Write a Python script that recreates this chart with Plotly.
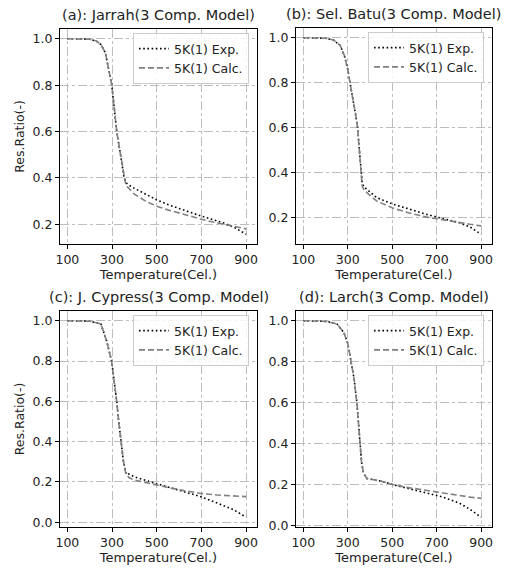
import plotly.graph_objects as go

W, H = 530, 568

titles = ["(a): Jarrah(3 Comp. Model)", "(b): Sel. Batu(3 Comp. Model)",
          "(c): J. Cypress(3 Comp. Model)", "(d): Larch(3 Comp. Model)"]
x_ticks = [100, 300, 500, 700, 900]

# Panel (a)
t_a = [100, 150, 200, 230, 250, 270, 285, 299, 310, 321, 338, 354, 362, 370, 400, 450, 500, 550, 600, 650, 700, 750, 800, 850, 900]
exp_a = [1.0, 1.0, 0.998, 0.99, 0.975, 0.94, 0.87, 0.80, 0.70, 0.60, 0.50, 0.40, 0.38, 0.372, 0.355, 0.33, 0.305, 0.285, 0.268, 0.25, 0.235, 0.22, 0.205, 0.185, 0.157]
calc_a = [1.0, 1.0, 0.998, 0.99, 0.975, 0.94, 0.87, 0.80, 0.70, 0.60, 0.50, 0.40, 0.37, 0.36, 0.33, 0.30, 0.278, 0.262, 0.248, 0.235, 0.222, 0.21, 0.20, 0.19, 0.18]

# Panel (b)
t_b = [100, 150, 200, 236, 266, 285, 300, 310, 325, 335, 344, 352, 359, 365, 375, 429, 503, 577, 651, 725, 799, 850, 900]
exp_b = [1.0, 1.0, 0.998, 0.99, 0.966, 0.92, 0.86, 0.80, 0.72, 0.66, 0.60, 0.50, 0.40, 0.35, 0.335, 0.289, 0.26, 0.237, 0.215, 0.196, 0.178, 0.158, 0.126]
calc_b = [1.0, 1.0, 0.998, 0.99, 0.966, 0.92, 0.86, 0.80, 0.72, 0.66, 0.60, 0.50, 0.40, 0.34, 0.32, 0.274, 0.242, 0.22, 0.203, 0.19, 0.178, 0.17, 0.163]

# Panel (c)
t_c = [100, 150, 200, 250, 276, 298, 310, 321, 330, 339, 350, 360, 368, 375, 400, 473, 548, 622, 697, 771, 846, 900]
exp_c = [1.0, 1.0, 0.998, 0.985, 0.90, 0.80, 0.70, 0.60, 0.50, 0.40, 0.31, 0.25, 0.235, 0.24, 0.225, 0.20, 0.176, 0.15, 0.127, 0.095, 0.061, 0.025]
calc_c = [1.0, 1.0, 0.998, 0.985, 0.90, 0.80, 0.70, 0.60, 0.50, 0.40, 0.31, 0.25, 0.232, 0.222, 0.21, 0.19, 0.173, 0.157, 0.143, 0.135, 0.13, 0.127]

# Panel (d)
t_d = [100, 150, 207, 252, 282, 300, 315, 328, 341, 353, 362, 371, 386, 450, 505, 580, 654, 729, 803, 850, 900]
exp_d = [1.0, 1.0, 0.997, 0.984, 0.943, 0.89, 0.80, 0.72, 0.60, 0.42, 0.31, 0.256, 0.231, 0.218, 0.20, 0.18, 0.162, 0.14, 0.11, 0.08, 0.042]
calc_d = [1.0, 1.0, 0.997, 0.984, 0.943, 0.89, 0.80, 0.72, 0.60, 0.42, 0.31, 0.256, 0.231, 0.218, 0.20, 0.185, 0.172, 0.159, 0.146, 0.14, 0.134]

panels = [(t_a, exp_a, calc_a), (t_b, exp_b, calc_b), (t_c, exp_c, calc_c), (t_d, exp_d, calc_d)]
y_ticks = [[0.2, 0.4, 0.6, 0.8, 1.0], [0.2, 0.4, 0.6, 0.8, 1.0],
           [0.0, 0.2, 0.4, 0.6, 0.8, 1.0], [0.0, 0.2, 0.4, 0.6, 0.8, 1.0]]

# pixel boxes (left, right, top, bottom)
boxes = [(60, 257, 29, 244), (296, 492, 28, 244), (60, 257, 311, 527), (296, 492, 311, 527)]

FONT = "DejaVu Sans"
TXT = "#222"
fig = go.Figure()
layout = dict(width=W, height=H, margin=dict(l=0, r=0, t=0, b=0, pad=0),
              paper_bgcolor="white", plot_bgcolor="white",
              font=dict(family=FONT, size=12, color=TXT), annotations=[])

for i, ((t, e, c), (l, r, tp, bt)) in enumerate(zip(panels, boxes)):
    n = "" if i == 0 else str(i + 1)
    lg = "legend" if i == 0 else "legend%d" % (i + 1)
    fig.add_trace(go.Scatter(x=t, y=e, mode="lines", name="5K(1) Exp.",
                             line=dict(color="black", width=1.6, dash="1.6px,2.6px"),
                             xaxis="x" + n, yaxis="y" + n, legend=lg))
    fig.add_trace(go.Scatter(x=t, y=c, mode="lines", name="5K(1) Calc.",
                             line=dict(color="#808080", width=1.6, dash="6px,3px"),
                             xaxis="x" + n, yaxis="y" + n, legend=lg))
    ymin = min(min(e), min(c)); ymax = max(max(e), max(c))
    pad = (ymax - ymin) * 0.05
    ax = dict(showline=True, linecolor="black", linewidth=1, mirror=True,
              ticks="outside", ticklen=4, tickcolor="black", automargin=False,
              showgrid=True, gridcolor="#bdbdbd", gridwidth=0.8, griddash="dashdot",
              zeroline=False, tickfont=dict(size=12.5, family=FONT, color=TXT))
    layout["xaxis" + n] = dict(ax, domain=[l / W, r / W], range=[67, 949],
                               tickvals=x_ticks, anchor="y" + n,
                               title=dict(text="Temperature(Cel.)", standoff=3,
                                          font=dict(size=13, family=FONT, color=TXT)))
    ydict = dict(ax, domain=[1 - bt / H, 1 - tp / H], range=[ymin - pad, ymax + pad],
                 tickvals=y_ticks[i], tickformat=".1f", anchor="x" + n)
    if i in (0, 2):
        ydict["title"] = dict(text="Res.Ratio(-)", standoff=5,
                              font=dict(size=12.5, family=FONT, color=TXT))
    layout["yaxis" + n] = ydict
    layout[lg] = dict(x=(r - 8) / W, y=1 - (tp + 4) / H, xanchor="right", yanchor="top",
                      bgcolor="rgba(255,255,255,0.85)", bordercolor="#cccccc", borderwidth=1,
                      font=dict(size=12.5, family=FONT, color=TXT),
                      itemwidth=30, tracegroupgap=0)
    layout["annotations"].append(dict(text=titles[i], x=(l + r) / 2 / W, y=1 - (tp - 14) / H,
                                      xref="paper", yref="paper", showarrow=False,
                                      xanchor="center", yanchor="middle",
                                      font=dict(size=14.5, family=FONT, color=TXT)))

fig.update_layout(**layout)
fig.write_html("out.html", config={"displayModeBar": False},
               post_script="document.body.style.margin='0';")
